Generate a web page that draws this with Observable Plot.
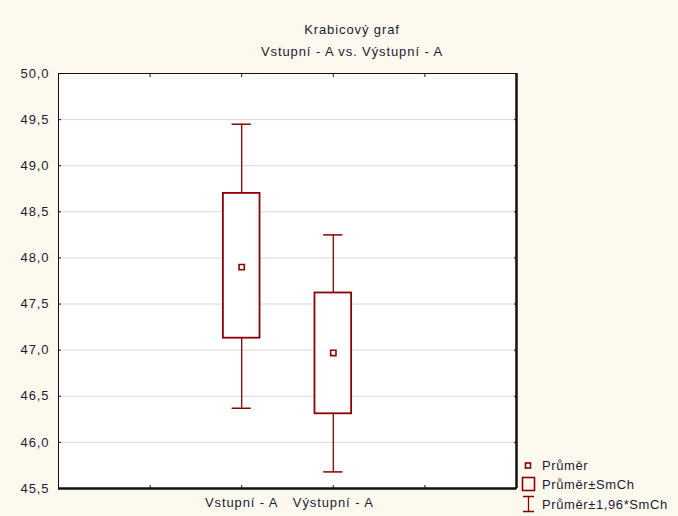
<!DOCTYPE html>
<html><head><meta charset="utf-8">
<script src="https://cdn.jsdelivr.net/npm/d3@7"></script>
<script src="https://cdn.jsdelivr.net/npm/@observablehq/plot@0.6"></script>
<style>
body{margin:0;background:#fdf9ef;}
#wrap{position:relative;width:678px;height:516px;overflow:hidden;background:#fdf9ef;font-family:"Liberation Sans",Arial,sans-serif;color:#1c1c30;}
#chart{position:absolute;left:0;top:0;}
.t{position:absolute;left:222px;width:260px;text-align:center;font-size:13px;letter-spacing:0.9px;line-height:15px;white-space:nowrap;}
.lg{position:absolute;left:520px;font-size:13px;letter-spacing:0.6px;line-height:15px;white-space:nowrap;display:flex;align-items:center;}
.lg svg{margin-right:4px;}
</style>
</head><body>
<div id="wrap">
  <div id="chart"></div>
  <div class="t" style="top:22px">Krabicový graf</div>
  <div class="t" style="top:44px">Vstupní - A vs. Výstupní - A</div>
  <div class="lg" style="top:458px"><svg width="18" height="14"><rect x="5.5" y="4" width="5" height="5" fill="#fff" stroke="#8b0000" stroke-width="1.6"/></svg>Průměr</div>
  <div class="lg" style="top:476px"><svg width="18" height="16"><rect x="2.5" y="1.5" width="12" height="13" fill="none" stroke="#8b0000" stroke-width="1.6"/></svg>Průměr±SmCh</div>
  <div class="lg" style="top:495px"><svg width="18" height="18"><path d="M3,1.5H14M8.5,1.5V16.5M3,16.5H14" fill="none" stroke="#8b0000" stroke-width="1.3"/></svg>Průměr±1,96*SmCh</div>
</div>
<script>
const categories = ["Vstupní - A", "Výstupní - A"];
const means  = [47.90, 46.97];
const seLow  = [47.13, 46.31];
const seHigh = [48.70, 47.62];
const ciLow  = [46.37, 45.68];
const ciHigh = [49.45, 48.25];
const yTicks = [45.5, 46.0, 46.5, 47.0, 47.5, 48.0, 48.5, 49.0, 49.5, 50.0];
const xTicks = [1, 2, 3, 4];

const data = categories.map((c, i) => ({
  cat: c, pos: i + 2, mean: means[i], lo: seLow[i], hi: seHigh[i], cl: ciLow[i], ch: ciHigh[i]
}));
const boxHalf = 0.2, capHalf = 0.105;
const red = "#8b0000";
const fmt = d => d.toFixed(1).replace(".", ",");

const plot = Plot.plot({
  width: 678, height: 516,
  marginLeft: 58, marginRight: 162, marginTop: 73, marginBottom: 28,
  style: {background: "transparent", fontFamily: "'Liberation Sans', Arial, sans-serif", fontSize: "13px", letterSpacing: "0.9px", color: "#1c1c30"},
  x: {domain: [0, 5], axis: null},
  y: {domain: [45.5, 50], axis: null},
  marks: [
    Plot.frame({fill: "white", stroke: "none"}),
    Plot.ruleY(yTicks.slice(1, -1), {stroke: "#d8d8d8", strokeWidth: 1}),
    Plot.axisY({anchor: "left", label: null, ticks: yTicks, tickSize: 0, tickPadding: 9, tickFormat: fmt, fill: "#1c1c30"}),
    Plot.axisY({anchor: "left", label: null, ticks: yTicks, tickSize: -3, tickFormat: () => ""}),
    Plot.axisY({anchor: "right", label: null, ticks: yTicks, tickSize: -3, tickFormat: () => ""}),
    Plot.axisX({anchor: "top", label: null, ticks: xTicks, tickSize: -3, tickFormat: () => ""}),
    Plot.axisX({anchor: "bottom", label: null, ticks: xTicks, tickSize: -3, tickFormat: () => ""}),
    Plot.axisX({anchor: "bottom", label: null, ticks: [2, 3], tickSize: 0, tickPadding: 9, tickFormat: d => categories[d - 2] ?? "", fill: "#1c1c30"}),
    Plot.ruleX(data, {x: "pos", y1: "cl", y2: "ch", stroke: red, strokeWidth: 1.3}),
    Plot.ruleY(data, {y: "cl", x1: d => d.pos - capHalf, x2: d => d.pos + capHalf, stroke: red, strokeWidth: 1.5}),
    Plot.ruleY(data, {y: "ch", x1: d => d.pos - capHalf, x2: d => d.pos + capHalf, stroke: red, strokeWidth: 1.5}),
    Plot.rect(data, {x1: d => d.pos - boxHalf, x2: d => d.pos + boxHalf, y1: "lo", y2: "hi", fill: "white", stroke: red, strokeWidth: 1.8}),
    Plot.dot(data, {x: "pos", y: "mean", symbol: "square", r: 3, fill: "white", stroke: red, strokeWidth: 1.6}),
    Plot.frame({stroke: "#111", strokeWidth: 1}),
    Plot.ruleX([5], {stroke: "#111", strokeWidth: 2.5}),
    Plot.ruleY([45.5], {stroke: "#111", strokeWidth: 2.5})
  ]
});
document.getElementById("chart").appendChild(plot);
</script>
</body></html>
